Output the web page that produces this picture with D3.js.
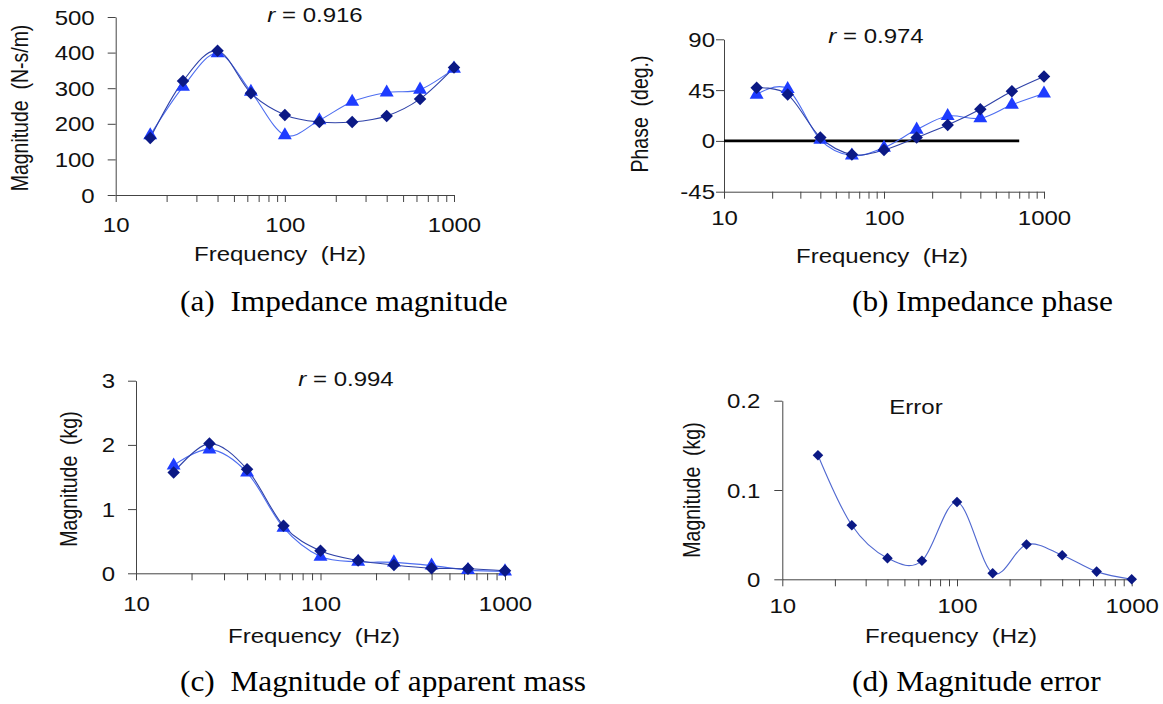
<!DOCTYPE html>
<html>
<head>
<meta charset="utf-8">
<script src="https://cdnjs.cloudflare.com/ajax/libs/d3/7.8.5/d3.min.js"></script>
<style>
  body { margin: 0; background: #fff; }
  text { font-family: "Liberation Sans", Arial, sans-serif; fill: #111; }
  .cap { font-family: "Liberation Serif", "Times New Roman", serif; font-size: 29px; fill: #000; }
</style>
</head>
<body>
<svg id="chart" width="1163" height="704"></svg>
<script>
// frequencies (Hz)
var freq = [16, 25, 40, 63, 100, 160, 250, 400, 630, 1000];

// (a) impedance magnitude, N-s/m
var impMagMeas  = [160, 320, 405, 286, 225, 205, 205, 222, 270, 358];
var impMagModel = [168, 304, 398, 290, 168, 210, 262, 288, 296, 355];

// (b) impedance phase, deg
var phaseMeas  = [47, 41, 3, -12, -8, 3, 14, 28, 44, 57];
var phaseModel = [41, 46, 1, -13, -6, 10, 22, 20, 32, 42];
var zeroFreq = [10, 700];
var zeroVal  = [0, 0];

// (c) apparent mass magnitude, kg
var massMeas  = [1.57, 2.02, 1.62, 0.74, 0.35, 0.20, 0.13, 0.08, 0.07, 0.04];
var massModel = [1.68, 1.93, 1.57, 0.71, 0.26, 0.18, 0.17, 0.12, 0.05, 0.03];

// (d) magnitude error, kg
var massErr = [0.139, 0.0605, 0.0237, 0.0207, 0.0865, 0.0068, 0.039, 0.027, 0.0086, 0];

// tick labels
var freqLabels = [10, 100, 1000];
var magTicks   = [0, 100, 200, 300, 400, 500];
var phaseTicks = [-45, 0, 45, 90];
var massTicks  = [0, 1, 2, 3];
var errTicks   = [0, 0.1, 0.2];

var svg = d3.select("#chart");
var SX = 1.2; // horizontal stretch of the original picture

var diamondCol = "#0b1985", triCol = "#1e3cff";
var diamondLine = "#2f42a8", triLine = "#4d6df0";

function zip(xs, ys) {
    return xs.map(function(d, i) { return {f: d, v: ys[i]}; });
}

function panel(p) {
    var x = d3.scaleLog().domain([10, 1000]).range([p.x0, p.x1]);
    var y = d3.scaleLinear().domain(p.dom).range([p.yb, p.yt]);
    var g = svg.append("g");

    // x axis, minor ticks unlabeled
    var xa = g.append("g")
        .attr("transform", "translate(0," + p.yb + ")")
        .call(d3.axisBottom(x).tickValues(x.ticks()).tickSize(7).tickSizeOuter(0)
            .tickFormat(function(d) { return freqLabels.indexOf(d) >= 0 ? d : ""; }));
    xa.selectAll("text")
        .attr("y", null).attr("dy", "0.35em")
        .attr("transform", "translate(0," + p.xoff + ") scale(" + SX + ",1)")
        .style("font-size", "20px").style("fill", "#111");

    // y axis
    var ya = g.append("g")
        .attr("transform", "translate(" + p.x0 + ",0)")
        .call(d3.axisLeft(y).tickValues(p.ticks).tickSize(8).tickSizeOuter(0)
            .tickFormat(function(d) { return String(d); }));
    ya.selectAll("text")
        .attr("x", null).attr("dy", "0.35em")
        .attr("transform", "translate(" + (-p.gap) + ",0) scale(" + SX + ",1)")
        .style("font-size", "20px").style("fill", "#111");

    g.selectAll(".domain, .tick line").attr("stroke", "#444").attr("stroke-width", 1);

    var line = d3.line().curve(d3.curveCatmullRom.alpha(0))
        .x(function(d) { return x(d.f); })
        .y(function(d) { return y(d.v); });

    if (p.zero) {
        g.append("path").datum(p.zero)
            .attr("d", d3.line().x(function(d) { return x(d.f); }).y(function(d) { return y(d.v); }))
            .attr("stroke", "#000").attr("stroke-width", 2.6).attr("fill", "none");
    }

    if (p.tri) {
        g.append("path").datum(p.tri).attr("d", line)
            .attr("fill", "none").attr("stroke", triLine).attr("stroke-width", 1.1);
    }
    g.append("path").datum(p.dia).attr("d", line)
        .attr("fill", "none").attr("stroke", p.diaLine || diamondLine).attr("stroke-width", 1.1);

    if (p.tri) {
        g.selectAll(".tri").data(p.tri).enter().append("path")
            .attr("d", d3.symbol(d3.symbolTriangle, 84))
            .attr("transform", function(d) { return "translate(" + x(d.f) + "," + y(d.v) + ")"; })
            .attr("fill", triCol);
    }
    g.selectAll(".dia").data(p.dia).enter().append("path")
        .attr("d", d3.symbol(d3.symbolSquare, p.dsize || 78))
        .attr("transform", function(d) { return "translate(" + x(d.f) + "," + y(d.v) + ") rotate(45)"; })
        .attr("fill", diamondCol);

    // title
    var t = g.append("text")
        .attr("transform", "translate(" + p.title[0] + "," + p.title[1] + ") scale(" + SX + ",1)")
        .attr("text-anchor", "middle").attr("dy", "0.35em").style("font-size", "20px");
    if (p.r) {
        t.append("tspan").style("font-style", "italic").text("r");
        t.append("tspan").text(" = " + p.r);
    } else {
        t.text(p.titleText);
    }

    g.append("text")
        .attr("transform", "translate(" + p.xl[0] + "," + p.xl[1] + ") scale(" + SX + ",1)")
        .attr("text-anchor", "middle").attr("dy", "0.35em").style("font-size", "20px")
        .style("white-space", "pre").text("Frequency  (Hz)");

    g.append("text")
        .attr("transform", "translate(" + p.yl[0] + "," + p.yl[1] + ") scale(" + SX + ",1) rotate(-90)")
        .attr("text-anchor", "middle").attr("dy", "0.35em").style("font-size", "19.5px")
        .style("white-space", "pre").text(p.ylabel);

    svg.append("text").attr("class", "cap")
        .attr("transform", "translate(" + p.cap[0] + "," + p.cap[1] + ") scale(1.08,1)")
        .style("white-space", "pre").text(p.capText);
}

panel({
    x0: 115.7, x1: 454, yb: 195, yt: 17, dom: [0, 500], ticks: magTicks, gap: 21, xoff: 30,
    dia: zip(freq, impMagMeas), tri: zip(freq, impMagModel),
    r: "0.916", title: [315, 15], xl: [280, 254], yl: [20, 108], ylabel: "Magnitude  (N-s/m)",
    cap: [180, 311], capText: "(a)  Impedance magnitude"
});

panel({
    x0: 724, x1: 1044, yb: 191.7, yt: 39.3, dom: [-45, 90], ticks: phaseTicks, gap: 9, xoff: 26,
    dia: zip(freq, phaseMeas), tri: zip(freq, phaseModel), zero: zip(zeroFreq, zeroVal),
    r: "0.974", title: [876, 36], xl: [882, 256], yl: [640, 114], ylabel: "Phase  (deg.)",
    cap: [852, 311], capText: "(b) Impedance phase"
});

panel({
    x0: 136, x1: 505, yb: 573.3, yt: 380.7, dom: [0, 3], ticks: massTicks, gap: 21, xoff: 31,
    dia: zip(freq, massMeas), tri: zip(freq, massModel),
    r: "0.994", title: [346, 379], xl: [314, 636], yl: [69, 479], ylabel: "Magnitude  (kg)",
    cap: [180, 691], capText: "(c)  Magnitude of apparent mass"
});

panel({
    x0: 782.3, x1: 1131.7, yb: 579.3, yt: 400.7, dom: [0, 0.2], ticks: errTicks, gap: 22, xoff: 27,
    dia: zip(freq, massErr), diaLine: "#5068d0", dsize: 56,
    titleText: "Error", title: [916, 407], xl: [951, 636], yl: [692, 490], ylabel: "Magnitude  (kg)",
    cap: [852, 691], capText: "(d) Magnitude error"
});
</script>
</body>
</html>
